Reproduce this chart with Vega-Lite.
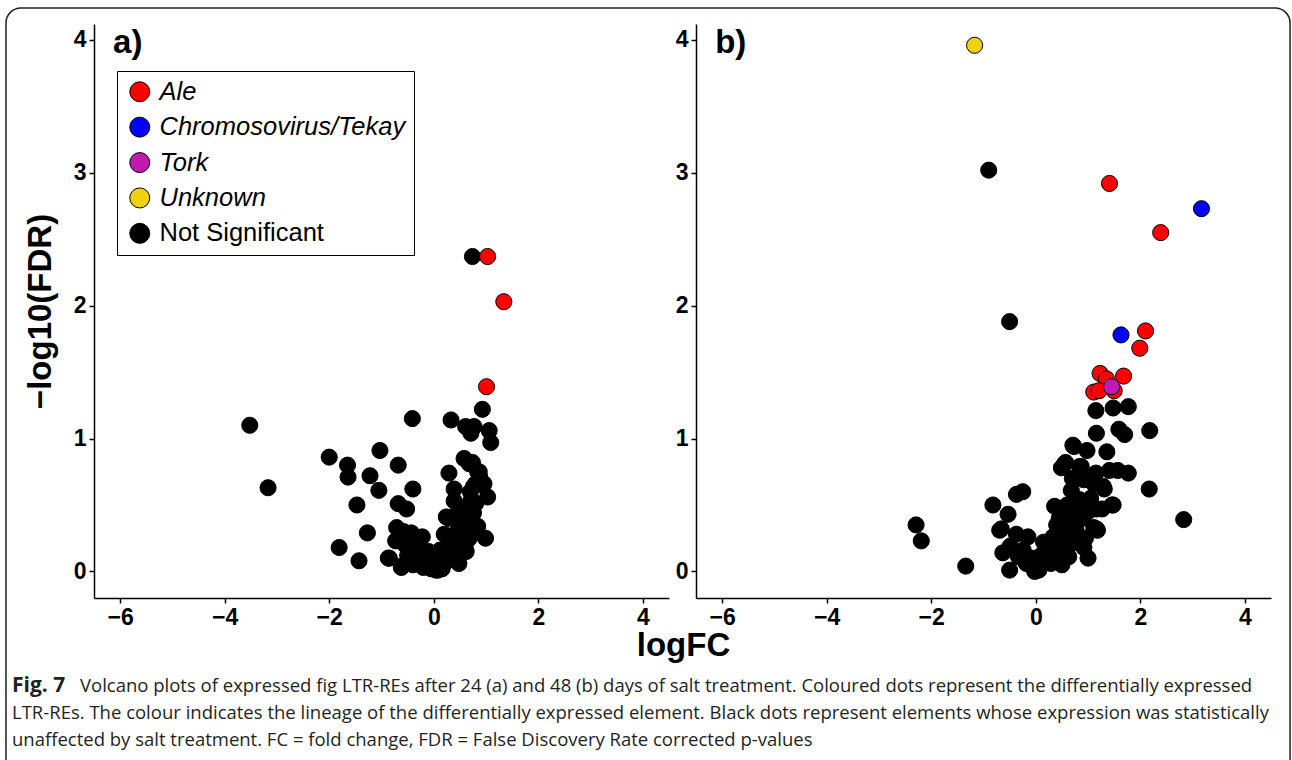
{
  "$schema": "https://vega.github.io/schema/vega-lite/v6.json",
  "background": "white",
  "padding": {"left": 5, "top": 7, "right": 0, "bottom": 0},
  "autosize": {"type": "pad"},
  "config": {
    "font": "Liberation Sans",
    "view": {"stroke": null},
    "axis": {
      "grid": false,
      "domainColor": "black",
      "domainWidth": 1.5,
      "tickColor": "black",
      "tickWidth": 1.5,
      "tickSize": 5,
      "labelFont": "Liberation Sans",
      "labelFontWeight": "bold",
      "labelFontSize": 23,
      "labelColor": "black",
      "labelPadding": 3,
      "titleFont": "Liberation Sans",
      "titleFontWeight": "bold",
      "titleFontSize": 33,
      "titleColor": "black"
    }
  },
  "datasets": {
    "day24": [
      {"logFC": 0.74, "nlogFDR": 2.37, "lineage": "Not Significant"},
      {"logFC": 0.93, "nlogFDR": 1.22, "lineage": "Not Significant"},
      {"logFC": -0.41, "nlogFDR": 1.15, "lineage": "Not Significant"},
      {"logFC": 0.33, "nlogFDR": 1.14, "lineage": "Not Significant"},
      {"logFC": 0.61, "nlogFDR": 1.09, "lineage": "Not Significant"},
      {"logFC": 0.77, "nlogFDR": 1.09, "lineage": "Not Significant"},
      {"logFC": 1.06, "nlogFDR": 1.06, "lineage": "Not Significant"},
      {"logFC": 0.71, "nlogFDR": 1.04, "lineage": "Not Significant"},
      {"logFC": 1.09, "nlogFDR": 0.97, "lineage": "Not Significant"},
      {"logFC": -3.52, "nlogFDR": 1.10, "lineage": "Not Significant"},
      {"logFC": -3.17, "nlogFDR": 0.63, "lineage": "Not Significant"},
      {"logFC": -2.00, "nlogFDR": 0.86, "lineage": "Not Significant"},
      {"logFC": -1.03, "nlogFDR": 0.91, "lineage": "Not Significant"},
      {"logFC": -1.65, "nlogFDR": 0.80, "lineage": "Not Significant"},
      {"logFC": -1.64, "nlogFDR": 0.71, "lineage": "Not Significant"},
      {"logFC": -0.68, "nlogFDR": 0.80, "lineage": "Not Significant"},
      {"logFC": -1.22, "nlogFDR": 0.72, "lineage": "Not Significant"},
      {"logFC": -1.05, "nlogFDR": 0.61, "lineage": "Not Significant"},
      {"logFC": -0.40, "nlogFDR": 0.62, "lineage": "Not Significant"},
      {"logFC": -1.47, "nlogFDR": 0.50, "lineage": "Not Significant"},
      {"logFC": -0.68, "nlogFDR": 0.51, "lineage": "Not Significant"},
      {"logFC": -0.52, "nlogFDR": 0.47, "lineage": "Not Significant"},
      {"logFC": -1.27, "nlogFDR": 0.29, "lineage": "Not Significant"},
      {"logFC": -1.81, "nlogFDR": 0.18, "lineage": "Not Significant"},
      {"logFC": -1.43, "nlogFDR": 0.08, "lineage": "Not Significant"},
      {"logFC": -0.85, "nlogFDR": 0.10, "lineage": "Not Significant"},
      {"logFC": -0.71, "nlogFDR": 0.33, "lineage": "Not Significant"},
      {"logFC": -0.73, "nlogFDR": 0.23, "lineage": "Not Significant"},
      {"logFC": -0.62, "nlogFDR": 0.03, "lineage": "Not Significant"},
      {"logFC": -0.44, "nlogFDR": 0.28, "lineage": "Not Significant"},
      {"logFC": -0.22, "nlogFDR": 0.26, "lineage": "Not Significant"},
      {"logFC": 0.29, "nlogFDR": 0.74, "lineage": "Not Significant"},
      {"logFC": 0.58, "nlogFDR": 0.85, "lineage": "Not Significant"},
      {"logFC": 0.74, "nlogFDR": 0.82, "lineage": "Not Significant"},
      {"logFC": 0.87, "nlogFDR": 0.75, "lineage": "Not Significant"},
      {"logFC": 0.39, "nlogFDR": 0.62, "lineage": "Not Significant"},
      {"logFC": 0.39, "nlogFDR": 0.53, "lineage": "Not Significant"},
      {"logFC": 0.96, "nlogFDR": 0.66, "lineage": "Not Significant"},
      {"logFC": 1.03, "nlogFDR": 0.56, "lineage": "Not Significant"},
      {"logFC": 0.99, "nlogFDR": 0.25, "lineage": "Not Significant"},
      {"logFC": 0.29, "nlogFDR": 0.40, "lineage": "Not Significant"},
      {"logFC": 0.20, "nlogFDR": 0.28, "lineage": "Not Significant"},
      {"logFC": 0.04, "nlogFDR": 0.01, "lineage": "Not Significant"},
      {"logFC": 0.68, "nlogFDR": 0.81, "lineage": "Not Significant"},
      {"logFC": 0.84, "nlogFDR": 0.75, "lineage": "Not Significant"},
      {"logFC": 0.92, "nlogFDR": 0.65, "lineage": "Not Significant"},
      {"logFC": 0.80, "nlogFDR": 0.51, "lineage": "Not Significant"},
      {"logFC": 0.76, "nlogFDR": 0.44, "lineage": "Not Significant"},
      {"logFC": 0.68, "nlogFDR": 0.36, "lineage": "Not Significant"},
      {"logFC": 0.60, "nlogFDR": 0.29, "lineage": "Not Significant"},
      {"logFC": 0.52, "nlogFDR": 0.21, "lineage": "Not Significant"},
      {"logFC": 0.44, "nlogFDR": 0.11, "lineage": "Not Significant"},
      {"logFC": 0.24, "nlogFDR": 0.41, "lineage": "Not Significant"},
      {"logFC": 0.36, "nlogFDR": 0.41, "lineage": "Not Significant"},
      {"logFC": 0.12, "nlogFDR": 0.16, "lineage": "Not Significant"},
      {"logFC": 0.00, "nlogFDR": 0.04, "lineage": "Not Significant"},
      {"logFC": -0.12, "nlogFDR": 0.06, "lineage": "Not Significant"},
      {"logFC": -0.19, "nlogFDR": 0.14, "lineage": "Not Significant"},
      {"logFC": -0.27, "nlogFDR": 0.24, "lineage": "Not Significant"},
      {"logFC": -0.43, "nlogFDR": 0.29, "lineage": "Not Significant"},
      {"logFC": -0.63, "nlogFDR": 0.24, "lineage": "Not Significant"},
      {"logFC": -0.87, "nlogFDR": 0.10, "lineage": "Not Significant"},
      {"logFC": -0.61, "nlogFDR": 0.04, "lineage": "Not Significant"},
      {"logFC": -0.35, "nlogFDR": 0.09, "lineage": "Not Significant"},
      {"logFC": -0.47, "nlogFDR": 0.16, "lineage": "Not Significant"},
      {"logFC": 0.08, "nlogFDR": 0.01, "lineage": "Not Significant"},
      {"logFC": 0.20, "nlogFDR": 0.06, "lineage": "Not Significant"},
      {"logFC": 0.36, "nlogFDR": 0.11, "lineage": "Not Significant"},
      {"logFC": 0.48, "nlogFDR": 0.06, "lineage": "Not Significant"},
      {"logFC": 0.60, "nlogFDR": 0.19, "lineage": "Not Significant"},
      {"logFC": 0.76, "nlogFDR": 0.29, "lineage": "Not Significant"},
      {"logFC": 0.84, "nlogFDR": 0.34, "lineage": "Not Significant"},
      {"logFC": 0.72, "nlogFDR": 0.54, "lineage": "Not Significant"},
      {"logFC": 0.76, "nlogFDR": 0.64, "lineage": "Not Significant"},
      {"logFC": 0.88, "nlogFDR": 0.71, "lineage": "Not Significant"},
      {"logFC": -0.55, "nlogFDR": 0.20, "lineage": "Not Significant"},
      {"logFC": -0.50, "nlogFDR": 0.12, "lineage": "Not Significant"},
      {"logFC": -0.30, "nlogFDR": 0.18, "lineage": "Not Significant"},
      {"logFC": -0.30, "nlogFDR": 0.08, "lineage": "Not Significant"},
      {"logFC": -0.15, "nlogFDR": 0.10, "lineage": "Not Significant"},
      {"logFC": -0.05, "nlogFDR": 0.02, "lineage": "Not Significant"},
      {"logFC": 0.10, "nlogFDR": 0.05, "lineage": "Not Significant"},
      {"logFC": 0.15, "nlogFDR": 0.10, "lineage": "Not Significant"},
      {"logFC": 0.25, "nlogFDR": 0.15, "lineage": "Not Significant"},
      {"logFC": 0.30, "nlogFDR": 0.20, "lineage": "Not Significant"},
      {"logFC": 0.35, "nlogFDR": 0.25, "lineage": "Not Significant"},
      {"logFC": 0.45, "nlogFDR": 0.30, "lineage": "Not Significant"},
      {"logFC": 0.50, "nlogFDR": 0.35, "lineage": "Not Significant"},
      {"logFC": 0.55, "nlogFDR": 0.40, "lineage": "Not Significant"},
      {"logFC": 0.62, "nlogFDR": 0.45, "lineage": "Not Significant"},
      {"logFC": 0.66, "nlogFDR": 0.50, "lineage": "Not Significant"},
      {"logFC": 0.70, "nlogFDR": 0.60, "lineage": "Not Significant"},
      {"logFC": 0.80, "nlogFDR": 0.66, "lineage": "Not Significant"},
      {"logFC": 0.62, "nlogFDR": 0.15, "lineage": "Not Significant"},
      {"logFC": 0.55, "nlogFDR": 0.25, "lineage": "Not Significant"},
      {"logFC": 0.45, "nlogFDR": 0.18, "lineage": "Not Significant"},
      {"logFC": 0.28, "nlogFDR": 0.10, "lineage": "Not Significant"},
      {"logFC": 0.05, "nlogFDR": 0.08, "lineage": "Not Significant"},
      {"logFC": -0.10, "nlogFDR": 0.15, "lineage": "Not Significant"},
      {"logFC": -0.40, "nlogFDR": 0.05, "lineage": "Not Significant"},
      {"logFC": 0.68, "nlogFDR": 0.25, "lineage": "Not Significant"},
      {"logFC": 0.72, "nlogFDR": 0.40, "lineage": "Not Significant"},
      {"logFC": 0.50, "nlogFDR": 0.48, "lineage": "Not Significant"},
      {"logFC": -0.58, "nlogFDR": 0.30, "lineage": "Not Significant"},
      {"logFC": -0.20, "nlogFDR": 0.03, "lineage": "Not Significant"},
      {"logFC": 0.16, "nlogFDR": 0.02, "lineage": "Not Significant"},
      {"logFC": 1.03, "nlogFDR": 2.37, "lineage": "Ale"},
      {"logFC": 1.34, "nlogFDR": 2.03, "lineage": "Ale"},
      {"logFC": 1.01, "nlogFDR": 1.39, "lineage": "Ale"}
    ],
    "day48": [
      {"logFC": -0.90, "nlogFDR": 3.02, "lineage": "Not Significant"},
      {"logFC": -0.50, "nlogFDR": 1.88, "lineage": "Not Significant"},
      {"logFC": 1.15, "nlogFDR": 1.21, "lineage": "Not Significant"},
      {"logFC": 1.48, "nlogFDR": 1.23, "lineage": "Not Significant"},
      {"logFC": 1.77, "nlogFDR": 1.24, "lineage": "Not Significant"},
      {"logFC": 1.16, "nlogFDR": 1.04, "lineage": "Not Significant"},
      {"logFC": 1.59, "nlogFDR": 1.07, "lineage": "Not Significant"},
      {"logFC": 1.70, "nlogFDR": 1.03, "lineage": "Not Significant"},
      {"logFC": 2.18, "nlogFDR": 1.06, "lineage": "Not Significant"},
      {"logFC": 0.73, "nlogFDR": 0.94, "lineage": "Not Significant"},
      {"logFC": 0.98, "nlogFDR": 0.91, "lineage": "Not Significant"},
      {"logFC": 1.36, "nlogFDR": 0.90, "lineage": "Not Significant"},
      {"logFC": 1.41, "nlogFDR": 0.76, "lineage": "Not Significant"},
      {"logFC": 1.57, "nlogFDR": 0.76, "lineage": "Not Significant"},
      {"logFC": 1.77, "nlogFDR": 0.74, "lineage": "Not Significant"},
      {"logFC": 2.17, "nlogFDR": 0.62, "lineage": "Not Significant"},
      {"logFC": 2.83, "nlogFDR": 0.39, "lineage": "Not Significant"},
      {"logFC": 0.55, "nlogFDR": 0.81, "lineage": "Not Significant"},
      {"logFC": 0.87, "nlogFDR": 0.79, "lineage": "Not Significant"},
      {"logFC": 0.68, "nlogFDR": 0.61, "lineage": "Not Significant"},
      {"logFC": 1.10, "nlogFDR": 0.67, "lineage": "Not Significant"},
      {"logFC": 1.29, "nlogFDR": 0.64, "lineage": "Not Significant"},
      {"logFC": 1.48, "nlogFDR": 0.50, "lineage": "Not Significant"},
      {"logFC": 1.16, "nlogFDR": 0.47, "lineage": "Not Significant"},
      {"logFC": 1.16, "nlogFDR": 0.32, "lineage": "Not Significant"},
      {"logFC": 0.84, "nlogFDR": 0.51, "lineage": "Not Significant"},
      {"logFC": -2.29, "nlogFDR": 0.35, "lineage": "Not Significant"},
      {"logFC": -2.19, "nlogFDR": 0.23, "lineage": "Not Significant"},
      {"logFC": -1.34, "nlogFDR": 0.04, "lineage": "Not Significant"},
      {"logFC": -0.82, "nlogFDR": 0.50, "lineage": "Not Significant"},
      {"logFC": -0.37, "nlogFDR": 0.58, "lineage": "Not Significant"},
      {"logFC": -0.25, "nlogFDR": 0.60, "lineage": "Not Significant"},
      {"logFC": -0.53, "nlogFDR": 0.43, "lineage": "Not Significant"},
      {"logFC": -0.66, "nlogFDR": 0.32, "lineage": "Not Significant"},
      {"logFC": -0.63, "nlogFDR": 0.14, "lineage": "Not Significant"},
      {"logFC": -0.50, "nlogFDR": 0.01, "lineage": "Not Significant"},
      {"logFC": 0.36, "nlogFDR": 0.49, "lineage": "Not Significant"},
      {"logFC": 0.49, "nlogFDR": 0.78, "lineage": "Not Significant"},
      {"logFC": 0.71, "nlogFDR": 0.95, "lineage": "Not Significant"},
      {"logFC": -0.37, "nlogFDR": 0.28, "lineage": "Not Significant"},
      {"logFC": -0.15, "nlogFDR": 0.26, "lineage": "Not Significant"},
      {"logFC": -0.24, "nlogFDR": 0.16, "lineage": "Not Significant"},
      {"logFC": -0.05, "nlogFDR": 0.03, "lineage": "Not Significant"},
      {"logFC": 0.20, "nlogFDR": 0.11, "lineage": "Not Significant"},
      {"logFC": 0.33, "nlogFDR": 0.26, "lineage": "Not Significant"},
      {"logFC": 0.49, "nlogFDR": 0.18, "lineage": "Not Significant"},
      {"logFC": 0.63, "nlogFDR": 0.11, "lineage": "Not Significant"},
      {"logFC": 1.00, "nlogFDR": 0.10, "lineage": "Not Significant"},
      {"logFC": 0.92, "nlogFDR": 0.18, "lineage": "Not Significant"},
      {"logFC": 0.84, "nlogFDR": 0.24, "lineage": "Not Significant"},
      {"logFC": 0.77, "nlogFDR": 0.31, "lineage": "Not Significant"},
      {"logFC": 0.73, "nlogFDR": 0.39, "lineage": "Not Significant"},
      {"logFC": 0.84, "nlogFDR": 0.54, "lineage": "Not Significant"},
      {"logFC": 0.92, "nlogFDR": 0.69, "lineage": "Not Significant"},
      {"logFC": 1.11, "nlogFDR": 0.66, "lineage": "Not Significant"},
      {"logFC": 1.18, "nlogFDR": 0.31, "lineage": "Not Significant"},
      {"logFC": 1.11, "nlogFDR": 0.33, "lineage": "Not Significant"},
      {"logFC": 1.46, "nlogFDR": 0.50, "lineage": "Not Significant"},
      {"logFC": 1.27, "nlogFDR": 0.47, "lineage": "Not Significant"},
      {"logFC": 0.45, "nlogFDR": 0.14, "lineage": "Not Significant"},
      {"logFC": 0.29, "nlogFDR": 0.06, "lineage": "Not Significant"},
      {"logFC": 0.06, "nlogFDR": 0.01, "lineage": "Not Significant"},
      {"logFC": -0.02, "nlogFDR": 0.00, "lineage": "Not Significant"},
      {"logFC": -0.18, "nlogFDR": 0.06, "lineage": "Not Significant"},
      {"logFC": -0.33, "nlogFDR": 0.11, "lineage": "Not Significant"},
      {"logFC": -0.49, "nlogFDR": 0.19, "lineage": "Not Significant"},
      {"logFC": -0.69, "nlogFDR": 0.31, "lineage": "Not Significant"},
      {"logFC": 0.13, "nlogFDR": 0.06, "lineage": "Not Significant"},
      {"logFC": 0.53, "nlogFDR": 0.28, "lineage": "Not Significant"},
      {"logFC": 0.68, "nlogFDR": 0.21, "lineage": "Not Significant"},
      {"logFC": 0.57, "nlogFDR": 0.41, "lineage": "Not Significant"},
      {"logFC": 0.76, "nlogFDR": 0.41, "lineage": "Not Significant"},
      {"logFC": 0.80, "nlogFDR": 0.49, "lineage": "Not Significant"},
      {"logFC": 0.84, "nlogFDR": 0.79, "lineage": "Not Significant"},
      {"logFC": 0.57, "nlogFDR": 0.82, "lineage": "Not Significant"},
      {"logFC": 1.15, "nlogFDR": 0.74, "lineage": "Not Significant"},
      {"logFC": 1.31, "nlogFDR": 0.62, "lineage": "Not Significant"},
      {"logFC": 0.25, "nlogFDR": 0.18, "lineage": "Not Significant"},
      {"logFC": 0.40, "nlogFDR": 0.35, "lineage": "Not Significant"},
      {"logFC": 0.60, "nlogFDR": 0.50, "lineage": "Not Significant"},
      {"logFC": 0.65, "nlogFDR": 0.30, "lineage": "Not Significant"},
      {"logFC": 0.90, "nlogFDR": 0.40, "lineage": "Not Significant"},
      {"logFC": 1.00, "nlogFDR": 0.45, "lineage": "Not Significant"},
      {"logFC": 0.10, "nlogFDR": 0.12, "lineage": "Not Significant"},
      {"logFC": -0.08, "nlogFDR": 0.10, "lineage": "Not Significant"},
      {"logFC": 0.35, "nlogFDR": 0.08, "lineage": "Not Significant"},
      {"logFC": 0.50, "nlogFDR": 0.05, "lineage": "Not Significant"},
      {"logFC": 0.15, "nlogFDR": 0.22, "lineage": "Not Significant"},
      {"logFC": 0.45, "nlogFDR": 0.40, "lineage": "Not Significant"},
      {"logFC": 0.95, "nlogFDR": 0.25, "lineage": "Not Significant"},
      {"logFC": 0.70, "nlogFDR": 0.70, "lineage": "Not Significant"},
      {"logFC": 1.05, "nlogFDR": 0.55, "lineage": "Not Significant"},
      {"logFC": 1.41, "nlogFDR": 2.92, "lineage": "Ale"},
      {"logFC": 2.39, "nlogFDR": 2.55, "lineage": "Ale"},
      {"logFC": 2.10, "nlogFDR": 1.81, "lineage": "Ale"},
      {"logFC": 1.99, "nlogFDR": 1.68, "lineage": "Ale"},
      {"logFC": 1.23, "nlogFDR": 1.49, "lineage": "Ale"},
      {"logFC": 1.35, "nlogFDR": 1.45, "lineage": "Ale"},
      {"logFC": 1.68, "nlogFDR": 1.47, "lineage": "Ale"},
      {"logFC": 1.11, "nlogFDR": 1.35, "lineage": "Ale"},
      {"logFC": 1.21, "nlogFDR": 1.36, "lineage": "Ale"},
      {"logFC": 1.50, "nlogFDR": 1.36, "lineage": "Ale"},
      {"logFC": 3.17, "nlogFDR": 2.73, "lineage": "Chromosovirus/Tekay"},
      {"logFC": 1.63, "nlogFDR": 1.78, "lineage": "Chromosovirus/Tekay"},
      {"logFC": 1.45, "nlogFDR": 1.39, "lineage": "Tork"},
      {"logFC": -1.17, "nlogFDR": 3.96, "lineage": "Unknown"}
    ],
    "caption": [
      {"line": 1, "part": "lead", "text": "Fig. 7"},
      {"line": 1, "part": "first", "text": "Volcano plots of expressed fig LTR-REs after 24 (a) and 48 (b) days of salt treatment. Coloured dots represent the differentially expressed"},
      {"line": 2, "part": "body", "text": "LTR-REs. The colour indicates the lineage of the differentially expressed element. Black dots represent elements whose expression was statistically"},
      {"line": 3, "part": "body", "text": "unaffected by salt treatment. FC = fold change, FDR = False Discovery Rate corrected p-values"}
    ]
  },
  "bounds": "flush",
  "spacing": 648,
  "vconcat": [
    {
      "bounds": "flush",
      "spacing": 27,
      "resolve": {"legend": {"color": "independent"}},
      "hconcat": [
        {
          "width": 575,
          "height": 574,
          "layer": [
            {
              "data": {"values": [{"frame": "outer"}]},
              "mark": {"type": "rect", "fill": "white", "fillOpacity": 0, "stroke": "#231f20", "strokeWidth": 1.5, "cornerRadius": 15, "clip": false},
              "encoding": {
                "x": {"datum": -8.184, "type": "quantitative"},
                "x2": {"datum": 16.381},
                "y": {"datum": 4.2405, "type": "quantitative"},
                "y2": {"datum": -1.65}
              }
            },
            {
              "data": {"name": "day24"},
              "mark": {"type": "point", "shape": "circle", "filled": true, "size": 260, "stroke": "black", "strokeWidth": 1, "opacity": 1},
              "encoding": {
                "x": {
                  "field": "logFC", "type": "quantitative",
                  "scale": {"domain": [-6.5, 4.5], "nice": false, "zero": false},
                  "axis": {"values": [-6, -4, -2, 0, 2, 4], "format": "d", "title": "logFC", "titleX": 589, "titleY": 57, "titleBaseline": "alphabetic"}
                },
                "y": {
                  "field": "nlogFDR", "type": "quantitative",
                  "scale": {"domain": [-0.2, 4.12], "nice": false, "zero": false},
                  "axis": {"values": [0, 1, 2, 3, 4], "format": "d", "title": "−log10(FDR)", "titleX": -54, "titleY": 287, "titleBaseline": "middle", "titleAlign": "center", "titleAngle": -90}
                },
                "color": {
                  "field": "lineage", "type": "nominal",
                  "scale": {
                    "domain": ["Ale", "Chromosovirus/Tekay", "Tork", "Unknown", "Not Significant"],
                    "range": ["#ff0000", "#0000ff", "#c01ab0", "#eed20e", "#000000"]
                  },
                  "legend": {
                    "title": null,
                    "orient": "none",
                    "legendX": 23,
                    "legendY": 47,
                    "symbolType": "circle",
                    "symbolSize": 400,
                    "symbolStrokeColor": "black",
                    "symbolStrokeWidth": 1,
                    "symbolOffset": 2,
                    "labelFont": "Liberation Sans",
                    "labelFontSize": 25.5,
                    "labelFontStyle": {"expr": "datum.label === 'Not Significant' ? 'normal' : 'italic'"},
                    "labelColor": "black",
                    "labelOffset": 7,
                    "labelLimit": 400,
                    "rowPadding": 8.4,
                    "padding": 8,
                    "strokeColor": "black",
                    "fillColor": "white"
                  }
                }
              }
            },
            {
              "data": {"values": [{"panel": "a)"}]},
              "mark": {"type": "text", "align": "left", "baseline": "alphabetic", "font": "Liberation Sans", "fontWeight": "bold", "fontSize": 33, "color": "black"},
              "encoding": {
                "x": {"datum": -6.136, "type": "quantitative"},
                "y": {"datum": 3.898, "type": "quantitative"},
                "text": {"field": "panel"}
              }
            }
          ]
        },
        {
          "width": 575,
          "height": 574,
          "layer": [
            {
              "data": {"name": "day48"},
              "mark": {"type": "point", "shape": "circle", "filled": true, "size": 260, "stroke": "black", "strokeWidth": 1, "opacity": 1},
              "encoding": {
                "x": {
                  "field": "logFC", "type": "quantitative",
                  "scale": {"domain": [-6.5, 4.5], "nice": false, "zero": false},
                  "axis": {"values": [-6, -4, -2, 0, 2, 4], "format": "d", "title": null}
                },
                "y": {
                  "field": "nlogFDR", "type": "quantitative",
                  "scale": {"domain": [-0.2, 4.12], "nice": false, "zero": false},
                  "axis": {"values": [0, 1, 2, 3, 4], "format": "d", "title": null}
                },
                "color": {
                  "field": "lineage", "type": "nominal",
                  "scale": {
                    "domain": ["Ale", "Chromosovirus/Tekay", "Tork", "Unknown", "Not Significant"],
                    "range": ["#ff0000", "#0000ff", "#c01ab0", "#eed20e", "#000000"]
                  },
                  "legend": null
                }
              }
            },
            {
              "data": {"values": [{"panel": "b)"}]},
              "mark": {"type": "text", "align": "left", "baseline": "alphabetic", "font": "Liberation Sans", "fontWeight": "bold", "fontSize": 33, "color": "black"},
              "encoding": {
                "x": {"datum": -6.133, "type": "quantitative"},
                "y": {"datum": 3.898, "type": "quantitative"},
                "text": {"field": "panel"}
              }
            }
          ]
        }
      ]
    },
    {
      "width": 1180,
      "height": 81,
      "data": {"name": "caption"},
      "encoding": {
        "y": {"field": "line", "type": "ordinal", "axis": null, "scale": {"domain": [1, 2, 3], "padding": 0.5}},
        "text": {"field": "text"}
      },
      "layer": [
        {
          "transform": [{"filter": "datum.part === 'lead'"}],
          "mark": {"type": "text", "align": "left", "baseline": "middle", "font": "Open Sans", "fontWeight": "bold", "fontSize": 21, "color": "#231f20"},
          "encoding": {"x": {"value": -82}}
        },
        {
          "transform": [{"filter": "datum.part === 'first'"}],
          "mark": {"type": "text", "align": "left", "baseline": "middle", "font": "Open Sans", "fontSize": 18.5, "color": "#231f20"},
          "encoding": {"x": {"value": -14}}
        },
        {
          "transform": [{"filter": "datum.part === 'body'"}],
          "mark": {"type": "text", "align": "left", "baseline": "middle", "font": "Open Sans", "fontSize": 18.5, "color": "#231f20"},
          "encoding": {"x": {"value": -82}}
        }
      ]
    }
  ]
}
